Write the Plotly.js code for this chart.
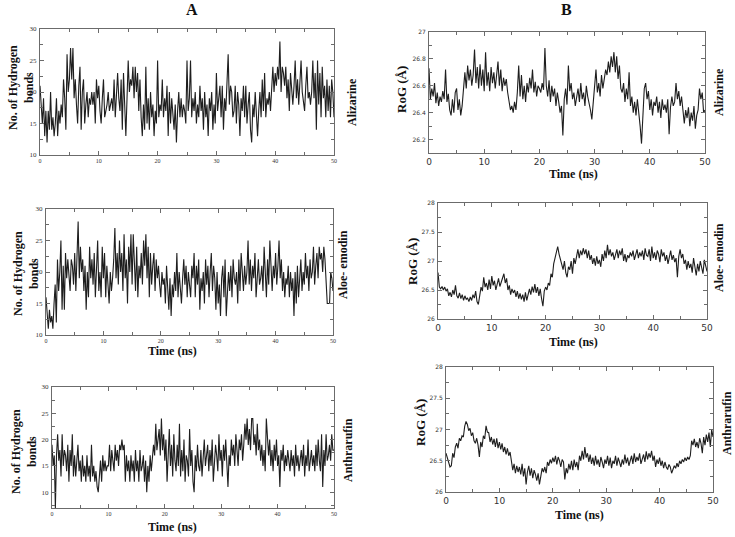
<!DOCTYPE html>
<html>
<head>
<meta charset="utf-8">
<script src="https://cdn.plot.ly/plotly-3.0.1.min.js"></script>
<style>
html,body{margin:0;padding:0;background:#fff;}
#chart{width:735px;height:537px;}
</style>
</head>
<body>
<div id="chart"></div>
<script>
// ---------- DATA ----------
const compounds = ["Alizarine", "Aloe- emodin", "Anthrarufin"];
const timeStartNs = 0;
const timeEndNs = 50;

// A: number of hydrogen bonds (sampled every 0.2 ns)
const hbondAlizarine = [
21,17,15,19,13, 17,12,17,14,20, 14,16,13,15,19, 13,17,15,18,16, 22,19,14,26,20,
22,27,22,27,19, 22,18,15,21,24, 14,20,22,15,18, 20,16,19,18,20, 18,20,15,22,19,
21,17,15,19,22, 16,17,18,20,17, 18,19,17,22,16, 20,23,19,17,22, 14,23,17,13,19,
25,20,22,21,24, 19,24,20,23,17, 22,16,13,18,14, 24,15,19,14,20, 16,18,13,17,15,
25,16,18,17,22, 16,19,17,21,13, 20,15,19,17,14, 18,12,17,20,16, 19,16,18,17,15,
25,17,19,25,16, 19,17,20,15,18, 16,21,17,19,14, 20,16,18,13,19, 17,20,14,18,15,
23,17,19,21,16, 21,14,19,17,22, 26,18,21,20,16, 17,21,15,20,18, 13,19,17,21,16,
21,15,18,20,14, 12,18,16,20,15, 13,17,20,16,22, 17,23,16,19,18, 20,17,21,24,20,
23,21,24,22,28, 20,24,23,21,24, 19,22,17,23,20, 18,21,25,19,22, 18,21,25,20,18,
17,21,24,19,20, 18,20,25,19,23, 14,25,18,23,16, 24,19,21,16,22, 17,21,16,22,20,
16];

const hbondAloeEmodin = [
16,13,11,14,12, 13,11,15,18,12, 22,17,20,25,14, 21,14,23,19,22, 20,17,22,21,18,
23,17,22,28,19, 24,20,22,17,21, 14,20,16,24,19, 22,18,23,16,21, 25,17,20,16,24,
19,23,16,21,18, 15,20,17,19,22, 27,19,23,18,25, 20,23,17,26,19, 22,15,24,20,26,
18,26,22,17,24, 16,21,19,23,18, 25,21,26,19,24, 16,23,18,21,23, 17,22,19,21,18,
16,20,18,19,15, 21,17,14,19,13, 18,16,20,17,23, 16,20,17,15,19, 22,18,21,16,20,
18,16,21,19,23, 16,21,18,22,14, 19,17,20,15,22, 18,21,16,20,23, 17,21,19,14,20,
15,18,13,19,21, 16,22,13,18,20, 17,21,16,22,19, 18,20,15,22,17, 23,19,17,21,18,
20,25,18,22,17, 21,19,23,16,20, 22,18,19,21,17, 24,19,16,22,18, 25,20,17,21,19,
23,18,21,25,19, 22,17,20,16,19, 18,21,16,20,17, 19,13,20,15,21, 16,19,22,17,20,
18,23,19,21,17, 22,19,20,24,18, 21,23,19,24,22, 23,20,24,22,18, 15,15,15,20,19,
17];

const hbondAnthrarufin = [
19,15,17,7,17, 21,16,18,13,21, 15,18,17,14,19, 12,18,15,21,13, 17,13,16,19,14,
16,12,17,13,15, 12,17,13,15,12, 19,13,15,12,14, 11,10,13,16,12, 17,14,16,14,15,
15,19,14,18,16, 14,19,16,18,15, 19,18,20,18,19, 12,17,14,16,12, 17,14,16,12,18,
14,16,12,18,14, 15,17,12,16,10, 15,12,17,14,16, 19,17,23,18,20, 22,17,24,18,21,
16,20,12,18,22, 15,19,13,21,16, 14,19,15,23,13, 18,14,20,12,17, 16,13,22,15,18,
12,10,17,14,19, 15,14,18,13,16, 20,15,17,19,14, 18,15,20,12,16, 19,17,14,21,16,
18,13,19,16,20, 14,11,17,15,20, 17,19,15,21,17, 15,20,18,21,16, 19,23,20,24,19,
22,18,24,24,19, 21,17,23,18,20, 16,19,15,18,14, 24,19,17,20,15, 18,14,19,16,20,
15,17,11,18,16, 19,14,17,15,18, 16,14,18,15,17, 13,19,15,17,14, 16,18,15,19,13,
17,15,20,14,16, 18,15,17,14,19, 15,20,16,14,21, 11,18,15,21,16, 17,19,16,21,18,
18];

// B: radius of gyration in Å (sampled every 0.25 ns)
const rogAlizarine = [
26.73,26.50,26.58,26.52, 26.62,26.47,26.55,26.45, 26.52,26.48,26.56,26.50, 26.72,26.48,26.54,26.42,
26.38,26.50,26.40,26.55, 26.58,26.42,26.50,26.38, 26.45,26.62,26.70,26.58, 26.75,26.64,26.72,26.60,
26.68,26.87,26.62,26.74, 26.58,26.76,26.60,26.72, 26.56,26.85,26.60,26.70, 26.56,26.74,26.62,26.70,
26.58,26.68,26.78,26.60, 26.72,26.56,26.66,26.60, 26.65,26.55,26.48,26.42, 26.45,26.40,26.48,26.42,
26.55,26.75,26.52,26.68, 26.50,26.60,26.48,26.62, 26.55,26.66,26.58,26.72, 26.55,26.63,26.52,26.60,
26.58,26.55,26.62,26.57, 26.88,26.60,26.52,26.64, 26.48,26.60,26.52,26.58, 26.45,26.55,26.48,26.40,
26.45,26.23,26.50,26.58, 26.46,26.75,26.56,26.62, 26.50,26.55,26.45,26.52, 26.58,26.48,26.62,26.50,
26.55,26.45,26.60,26.52, 26.48,26.42,26.35,26.50, 26.58,26.72,26.55,26.62, 26.52,26.68,26.58,26.65,
26.72,26.68,26.78,26.70, 26.82,26.74,26.85,26.70, 26.82,26.65,26.75,26.58, 26.55,26.62,26.48,26.58,
26.50,26.70,26.45,26.52, 26.40,26.48,26.38,26.50, 26.42,26.30,26.17,26.45, 26.58,26.62,26.50,26.56,
26.42,26.50,26.38,26.48, 26.45,26.52,26.40,26.48, 26.36,26.50,26.42,26.46, 26.40,26.50,26.24,26.44,
26.52,26.45,26.48,26.62, 26.50,26.56,26.45,26.52, 26.40,26.32,26.42,26.36, 26.44,26.30,26.40,26.34,
26.45,26.28,26.38,26.42, 26.58,26.50,26.55,26.40, 26.42];

const rogAloeEmodin = [
26.80,26.55,26.52,26.56, 26.50,26.55,26.48,26.52, 26.40,26.46,26.38,26.50, 26.42,26.58,26.40,26.36,
26.45,26.35,26.42,26.32, 26.40,26.34,26.36,26.30, 26.38,26.32,26.42,26.36, 26.48,26.30,26.25,26.45,
26.55,26.48,26.72,26.55, 26.62,26.50,26.68,26.52, 26.74,26.58,26.66,26.50, 26.62,26.70,26.56,26.64,
26.72,26.78,26.62,26.70, 26.50,26.58,26.42,26.52, 26.45,26.50,26.38,26.48, 26.35,26.44,26.34,26.42,
26.30,26.46,26.32,26.40, 26.52,26.42,26.56,26.46, 26.60,26.45,26.55,26.40, 26.52,26.35,26.22,26.48,
26.55,26.50,26.62,26.58, 26.78,26.72,26.95,27.05, 27.15,27.25,27.12,27.02, 26.95,26.85,27.00,26.80,
26.72,26.90,26.85,27.00, 26.78,27.05,26.95,27.12, 27.20,27.05,27.18,27.10, 27.22,27.12,27.20,27.05,
27.18,27.02,27.10,26.95, 27.05,26.92,27.08,26.95, 27.02,26.90,27.12,27.00, 27.18,27.05,27.28,27.10,
27.20,27.08,27.15,27.02, 27.12,27.20,27.05,27.18, 27.10,27.22,27.00,27.12, 26.98,27.10,27.05,27.15,
27.08,27.18,27.02,27.12, 27.20,27.05,27.15,27.08, 27.18,27.02,27.22,27.10, 27.08,27.20,27.00,27.25,
27.05,27.15,27.02,27.18, 27.12,26.98,27.20,27.08, 27.15,27.00,27.10,26.95, 27.08,27.18,27.02,27.10,
26.98,27.05,26.72,27.08, 27.20,27.05,27.12,26.95, 27.02,26.85,27.00,26.88, 26.95,26.80,27.05,26.85,
26.75,26.95,26.82,27.00, 26.90,26.78,27.02,26.90, 26.82];

const rogAnthrarufin = [
26.62,26.55,26.48,26.40, 26.42,26.62,26.55,26.72, 26.78,26.70,26.86,26.82, 26.90,26.88,27.05,27.13,
27.08,26.98,27.02,26.90, 26.95,26.82,26.78,26.86, 26.75,26.56,26.80,26.72, 26.90,26.85,27.06,26.96,
26.95,26.80,26.88,26.76, 26.85,26.72,26.86,26.70, 26.80,26.68,26.78,26.64, 26.72,26.60,26.70,26.58,
26.64,26.52,26.35,26.45, 26.30,26.42,26.32,26.40, 26.28,26.45,26.25,26.38, 26.12,26.32,26.42,26.26,
26.38,26.22,26.35,26.28, 26.18,26.30,26.12,26.25, 26.38,26.32,26.40,26.30, 26.48,26.42,26.52,26.46,
26.55,26.48,26.58,26.44, 26.56,26.50,26.40,26.52, 26.48,26.20,26.38,26.30, 26.45,26.36,26.50,26.35,
26.52,26.40,26.48,26.35, 26.58,26.50,26.66,26.52, 26.72,26.55,26.62,26.48, 26.60,26.45,26.55,26.42,
26.58,26.44,26.52,26.40, 26.56,26.48,26.38,26.52, 26.45,26.58,26.42,26.55, 26.38,26.50,26.45,26.58,
26.42,26.55,26.48,26.40, 26.52,26.44,26.60,26.46, 26.55,26.42,26.50,26.58, 26.45,26.62,26.48,26.56,
26.50,26.62,26.45,26.55, 26.60,26.48,26.65,26.52, 26.62,26.55,26.66,26.50, 26.58,26.40,26.52,26.45,
26.55,26.42,26.50,26.38, 26.48,26.40,26.36,26.44, 26.40,26.30,26.35,26.42, 26.38,26.46,26.40,26.50,
26.45,26.52,26.48,26.55, 26.50,26.56,26.52,26.58, 26.82,26.75,26.85,26.72, 26.80,26.70,26.86,26.78,
26.62,26.88,26.75,26.92, 26.80,26.95,26.72,27.00, 26.88];

// axis ranges / ticks
const hbondRange = [10, 30];
const hbondRangeAnthrarufin = [7, 30];
const rogRangeAlizarine = [26.1, 27];
const rogRangeOther = [26, 28];

// ---------- LAYOUT HELPERS ----------
const W = 735, H = 537;
const px = x => x / W;
const py = y => 1 - y / H;

function times(arr) {
  const n = arr.length;
  return arr.map((_, i) => timeStartNs + (timeEndNs - timeStartNs) * i / (n - 1));
}

// panel boxes in pixels [left, right, top, bottom]
const boxes = [
  [40, 334, 29, 155],   // A1
  [46, 333, 209, 335],  // A2
  [52, 334, 387, 508],  // A3
  [429, 705, 32, 153],  // B1
  [438, 707, 203, 319], // B2
  [446, 713, 367, 492]  // B3
];

const series = [hbondAlizarine, hbondAloeEmodin, hbondAnthrarufin,
                rogAlizarine, rogAloeEmodin, rogAnthrarufin];
const yRanges = [hbondRange, hbondRange, hbondRangeAnthrarufin,
                 rogRangeAlizarine, rogRangeOther, rogRangeOther];
const yTicks = [
  {tickvals:[10,15,20,25,30], minor:2.5},
  {tickvals:[10,15,20,25,30], minor:2.5},
  {tickvals:[10,15,20,25,30], minor:2.5},
  {tickvals:[26.2,26.4,26.6,26.8,27], minor:0.1},
  {tickvals:[26,26.5,27,27.5,28], minor:0.25},
  {tickvals:[26,26.5,27,27.5,28], minor:0.25}
];

const serif = "Liberation Serif, Times New Roman, serif";
const sans = "DejaVu Sans, Arial, sans-serif";
const frameColor = "#6b6b6b";

const traces = [];
const layout = {
  width: W, height: H,
  margin: {l:0, r:0, t:0, b:0},
  paper_bgcolor: "#fff", plot_bgcolor: "#fff",
  showlegend: false,
  annotations: []
};

for (let i = 0; i < 6; i++) {
  const s = i === 0 ? "" : String(i + 1);
  const [l, r, t, b] = boxes[i];
  const isA = i < 3;
  traces.push({
    x: times(series[i]), y: series[i],
    type: "scatter", mode: "lines",
    xaxis: "x" + s, yaxis: "y" + s,
    line: {color: "#1e1e1e", width: 1.1},
    hoverinfo: "skip"
  });
  const common = {
    showline: true, mirror: "ticks", linecolor: frameColor, linewidth: 1,
    ticks: "inside", tickcolor: frameColor, ticklen: 4, tickwidth: 1,
    showgrid: false, zeroline: false, fixedrange: true
  };
  layout["xaxis" + s] = Object.assign({}, common, {
    domain: [px(l), px(r)], anchor: "y" + s,
    range: [timeStartNs, timeEndNs],
    tickvals: [0,10,20,30,40,50],
    minor: {ticks: "inside", ticklen: 3, dtick: 5, tickcolor: frameColor},
    tickfont: isA ? {family: serif, size: 6, color: "#333"} : {family: sans, size: 9, color: "#333"},
    ticklabelstandoff: 0
  });
  layout["yaxis" + s] = Object.assign({}, common, {
    domain: [py(b), py(t)], anchor: "x" + s,
    range: yRanges[i],
    tickvals: yTicks[i].tickvals,
    minor: {ticks: "inside", ticklen: 3, dtick: yTicks[i].minor, tickcolor: frameColor},
    tickfont: isA ? {family: serif, size: 7, color: "#333"} : {family: sans, size: 6, color: "#333"},
    ticklabelstandoff: 1
  });
}

function ann(text, x, y, size, angle) {
  layout.annotations.push({
    text: text, x: px(x), y: py(y), xref: "paper", yref: "paper",
    xanchor: "center", yanchor: "middle", showarrow: false,
    textangle: angle || 0,
    font: {family: serif, size: size, color: "#111", weight: "bold"}
  });
}

// Column headers
ann("<b>A</b>", 192, 10, 16);
ann("<b>B</b>", 566, 10, 16);

// Y titles (A)
ann("<b>No. of Hydrogen<br>bonds</b>", 21, 88, 12, -90);
ann("<b>No. of Hydrogen<br>bonds</b>", 26, 274, 12, -90);
ann("<b>No. of Hydrogen<br>bonds</b>", 24, 452, 12, -90);
// Y titles (B)
ann("<b>RoG (Å)</b>", 402, 90, 13, -90);
ann("<b>RoG (Å)</b>", 412, 262, 13, -90);
ann("<b>RoG (Å)</b>", 420, 423, 13, -90);

// X titles
ann("<b>Time (ns)</b>", 172, 351, 12);
ann("<b>Time (ns)</b>", 172, 527, 12);
ann("<b>Time (ns)</b>", 573, 174, 12);
ann("<b>Time (ns)</b>", 573, 342, 12);
ann("<b>Time (ns)</b>", 579, 515, 12);

// Compound labels on the right
ann("<b>" + compounds[0] + "</b>", 352, 102, 12, -90);
ann("<b>" + compounds[1] + "</b>", 343, 265, 12, -90);
ann("<b>" + compounds[2] + "</b>", 348, 450, 12, -90);
ann("<b>" + compounds[0] + "</b>", 719, 92, 12, -90);
ann("<b>" + compounds[1] + "</b>", 719, 258, 12, -90);
ann("<b>" + compounds[2] + "</b>", 727, 423, 12, -90);

Plotly.newPlot("chart", traces, layout, {staticPlot: true, displayModeBar: false});
</script>
</body>
</html>
